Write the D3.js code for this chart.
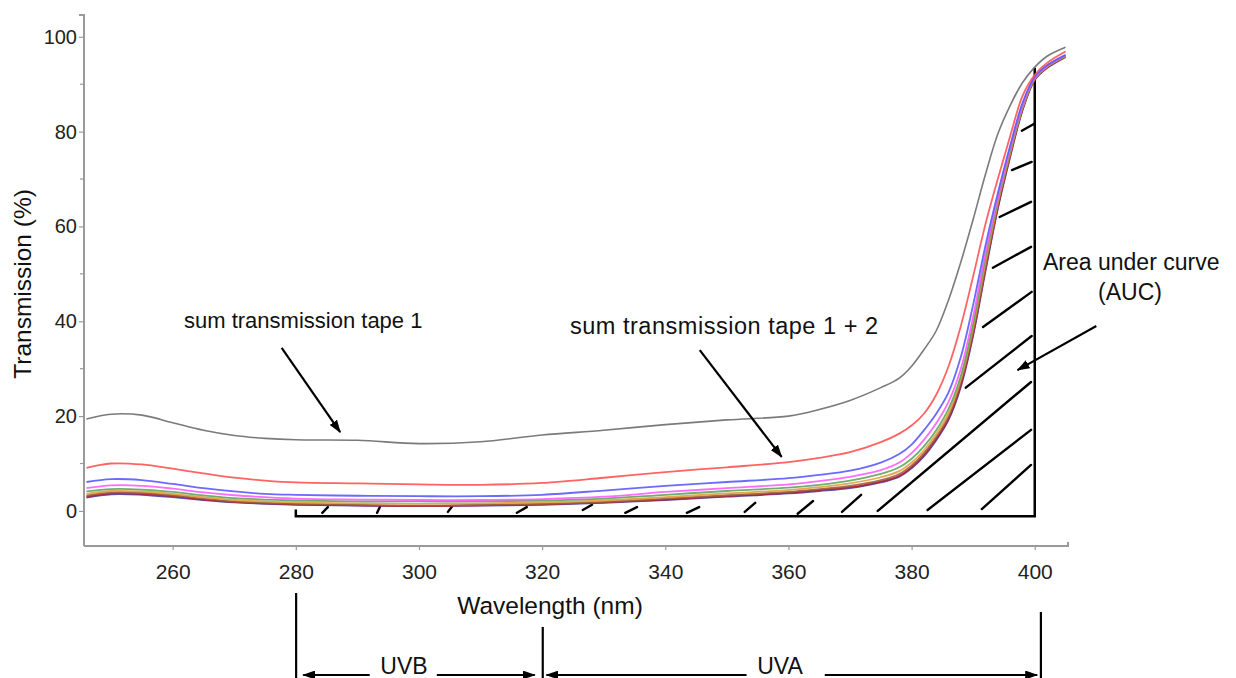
<!DOCTYPE html>
<html>
<head>
<meta charset="utf-8">
<script src="https://cdn.jsdelivr.net/npm/d3@7"></script>
<style>
  html, body { margin: 0; padding: 0; background: #fff; }
  svg { display: block; font-family: "Liberation Sans", Arial, Helvetica, sans-serif; }
</style>
</head>
<body>
<svg id="chart" width="1236" height="678"></svg>
<script>
// ---------- data ----------
const wavelengths = [246, 250, 255, 260, 265, 270, 275, 280, 290, 300, 310, 320, 330, 340, 350, 360, 365, 370, 375, 378, 380, 382, 384, 386, 388, 390, 392, 394, 396, 398, 400, 402, 405];

const tape1      = [19.4, 20.4, 20.2, 18.6, 17.0, 15.9, 15.3, 15.0, 14.9, 14.2, 14.6, 16.0, 17.0, 18.2, 19.2, 20.0, 21.4, 23.3, 26.0, 28.0, 30.5, 34.0, 38.0, 44.5, 52.5, 61.5, 71.0, 79.5, 85.5, 90.3, 93.6, 95.9, 97.8];
const tape12     = [9.1, 10.0, 9.8, 8.9, 7.9, 7.0, 6.4, 6.0, 5.8, 5.6, 5.5, 5.9, 7.0, 8.2, 9.2, 10.3, 11.2, 12.4, 14.5, 16.3, 18.0, 20.5, 24.5, 30.5, 39.0, 49.5, 60.5, 70.0, 79.0, 87.5, 92.0, 94.5, 96.9];
const tapeBlue   = [6.1, 6.7, 6.5, 5.7, 4.8, 4.1, 3.6, 3.4, 3.2, 3.1, 3.1, 3.4, 4.3, 5.3, 6.1, 6.9, 7.6, 8.5, 10.2, 12.0, 14.0, 17.0, 20.5, 25.0, 32.5, 43.5, 56.0, 67.0, 77.0, 86.0, 91.6, 94.0, 96.2];
const tapePink   = [4.8, 5.4, 5.3, 4.7, 3.9, 3.3, 2.9, 2.6, 2.4, 2.3, 2.3, 2.5, 3.0, 4.0, 4.8, 5.6, 6.3, 7.2, 8.6, 10.2, 12.2, 15.0, 18.5, 23.0, 30.0, 41.0, 54.5, 66.0, 76.5, 85.5, 91.4, 93.9, 96.1];
const tapeGreen  = [4.1, 4.6, 4.5, 4.0, 3.3, 2.7, 2.4, 2.2, 2.0, 2.0, 2.0, 2.2, 2.6, 3.4, 4.2, 4.9, 5.5, 6.4, 7.8, 9.2, 11.0, 13.6, 17.0, 21.5, 28.5, 39.5, 53.5, 65.5, 76.0, 85.2, 91.3, 93.8, 96.0];
const tapeOrange = [3.6, 4.2, 4.1, 3.6, 2.9, 2.3, 2.0, 1.8, 1.6, 1.5, 1.6, 1.8, 2.2, 2.9, 3.7, 4.4, 5.0, 5.8, 7.1, 8.4, 10.2, 12.8, 16.2, 20.6, 27.8, 38.8, 52.5, 65.0, 75.6, 85.0, 91.2, 93.7, 95.9];
const tapeBrown  = [3.2, 3.9, 3.8, 3.3, 2.6, 2.0, 1.7, 1.5, 1.3, 1.1, 1.3, 1.5, 1.9, 2.6, 3.3, 4.0, 4.6, 5.3, 6.5, 7.8, 9.6, 12.2, 15.6, 20.0, 27.2, 38.0, 51.5, 64.5, 75.2, 84.8, 91.1, 93.6, 95.9];
const tapeDkRed  = [3.0, 3.7, 3.6, 3.1, 2.4, 1.9, 1.6, 1.4, 1.2, 1.0, 1.2, 1.4, 1.8, 2.4, 3.1, 3.8, 4.4, 5.0, 6.2, 7.4, 9.2, 11.8, 15.2, 19.5, 26.6, 37.4, 51.0, 64.0, 74.9, 84.6, 91.0, 93.5, 95.8];
const tapeNavy   = [2.8, 3.5, 3.4, 2.9, 2.3, 1.8, 1.5, 1.3, 1.1, 1.0, 1.1, 1.3, 1.7, 2.3, 3.0, 3.7, 4.2, 4.8, 6.0, 7.2, 9.0, 11.5, 14.9, 19.2, 26.2, 37.0, 50.6, 63.7, 74.6, 84.4, 90.9, 93.4, 95.7];

const seriesNames  = ["tape1", "tape12", "blue", "pink", "green", "orange", "brown", "darkred", "navy"];
const seriesValues = [tape1, tape12, tapeBlue, tapePink, tapeGreen, tapeOrange, tapeBrown, tapeDkRed, tapeNavy];

const xTicks = [260, 280, 300, 320, 340, 360, 380, 400];
const yTicks = [0, 20, 40, 60, 80, 100];
const yMinorTicks = [10, 30, 50, 70, 90];

// hatch segments of the AUC region: [wl1, T1, wl2, T2]
const hatchSegments = [
  [284.3, -0.4, 285.2, 0.8], [293.2, -0.4, 293.7, 1.0], [304.7, -0.2, 305.4, 1.0],
  [315.9, -0.4, 317.5, 0.8], [326.6, 0.2, 328.1, 1.3], [333.5, -0.4, 335.4, 0.8],
  [343.5, -0.4, 345.5, 0.8], [352.9, -0.2, 354.6, 1.7], [361.5, -0.6, 364.0, 2.1],
  [368.7, -0.2, 371.8, 3.4], [374.5, 0.0, 399.4, 27.2], [382.6, 0.2, 399.4, 17.1],
  [391.4, 0.4, 399.4, 9.7], [388.8, 26.0, 399.5, 36.9], [391.6, 38.8, 399.5, 46.2],
  [393.2, 51.3, 399.4, 55.7], [394.3, 62.0, 399.4, 65.2], [396.3, 71.9, 399.5, 73.6],
  [397.9, 80.2, 400.0, 81.7]
];

// annotation arrows: [wl1, T1, wl2, T2]
const arrows = [
  [277.7, 34.4, 287.2, 16.6],
  [345.6, 33.9, 358.9, 11.4],
  [410.0, 39.0, 397.2, 29.7]
];

// UVB / UVA band boundaries and arrows (wavelength units)
const bandBounds = [[280.05, 593], [320.1, 627], [401.0, 612]];
const bandArrows = [[292.0, 281.2], [302.9, 318.8], [353.2, 320.7], [365.9, 400.4]];

// ---------- layout ----------
const svg = d3.select("#chart");
const x = d3.scaleLinear().domain([245.6, 405.4]).range([84, 1068]);
const y = d3.scaleLinear().domain([-7.4, 104.6]).range([546, 15]);

const colors = {
  tape1: "#6b6b6b", tape12: "#ff5252", blue: "#5a5aff", pink: "#ff5cff",
  green: "#5fa55f", orange: "#e0a040", brown: "#a0603c", darkred: "#b02035", navy: "#4a3ca8"
};

// arrow marker
const defs = svg.append("defs");
defs.append("marker").attr("id", "ah")
  .attr("viewBox", "0 0 13 9").attr("refX", 12).attr("refY", 4.5)
  .attr("markerWidth", 13).attr("markerHeight", 9)
  .attr("markerUnits", "userSpaceOnUse").attr("orient", "auto")
  .append("path").attr("d", "M0,0 L13,4.5 L0,9 Z").attr("fill", "#000");

// axes
const axisColor = "#9a9a9a";
const yAxis = svg.append("g").attr("transform", `translate(${x.range()[0]},0)`)
  .call(d3.axisLeft(y).tickValues(yTicks).tickSize(5).tickPadding(5).tickFormat(d3.format("d")));
yAxis.select(".domain").attr("stroke", axisColor).attr("stroke-width", 2).attr("d", `M-5,${y.range()[1]}H0V${y.range()[0]}`);
yAxis.selectAll(".tick line").attr("stroke", axisColor).attr("stroke-width", 1.2);
yAxis.selectAll(".tick text").attr("fill", "#222").style("font-size", "20px").attr("x", -7);
yAxis.selectAll(".minor").data(yMinorTicks).enter().append("line")
  .attr("x1", -4).attr("x2", 0).attr("y1", d => y(d)).attr("y2", d => y(d))
  .attr("stroke", axisColor).attr("stroke-width", 1.2);

const xAxis = svg.append("g").attr("transform", `translate(0,${y.range()[0]})`)
  .call(d3.axisBottom(x).tickValues(xTicks).tickSize(4).tickPadding(14).tickFormat(d3.format("d")));
xAxis.select(".domain").attr("stroke", axisColor).attr("stroke-width", 2).attr("d", `M${x.range()[0]},0H${x.range()[1]}V-4`);
xAxis.selectAll(".tick line").attr("stroke", axisColor).attr("stroke-width", 1.2);
xAxis.selectAll(".tick text").attr("fill", "#222").style("font-size", "21px");

// axis titles
svg.append("text").attr("x", 550).attr("y", 614).attr("text-anchor", "middle")
  .style("font-size", "24.5px").attr("fill", "#111").text("Wavelength (nm)");
svg.append("text").attr("transform", "translate(31,284) rotate(-90)").attr("text-anchor", "middle")
  .style("font-size", "24.5px").attr("fill", "#111").text("Transmission (%)");

// AUC bracket
const bracketT = -1.1;
svg.append("path").attr("fill", "none").attr("stroke", "#000").attr("stroke-width", 2.5)
  .attr("d", `M${x(280)},${y(0.3)}V${y(bracketT)}H${x(400)}V${y(93.5)}`);

// hatch
svg.append("g").selectAll("line").data(hatchSegments).enter().append("line")
  .attr("x1", d => x(d[0])).attr("y1", d => y(d[1]))
  .attr("x2", d => x(d[2])).attr("y2", d => y(d[3]))
  .attr("stroke", "#000").attr("stroke-width", 2.4).attr("stroke-linecap", "round");

// curves (draw from the bottom cluster up)
const line = d3.line().x((d, i) => x(wavelengths[i])).y(d => y(d)).curve(d3.curveCatmullRom.alpha(0.5));
const order = d3.range(seriesNames.length).reverse();
svg.append("g").selectAll("path").data(order).enter().append("path")
  .attr("fill", "none")
  .attr("stroke", i => colors[seriesNames[i]])
  .attr("stroke-width", i => i === 0 ? 1.6 : 1.8)
  .attr("stroke-opacity", 0.9)
  .attr("d", i => line(seriesValues[i]));

// annotation arrows
svg.append("g").selectAll("line").data(arrows).enter().append("line")
  .attr("x1", d => x(d[0])).attr("y1", d => y(d[1]))
  .attr("x2", d => x(d[2])).attr("y2", d => y(d[3]))
  .attr("stroke", "#000").attr("stroke-width", 2.2).attr("marker-end", "url(#ah)");

// annotation texts
const ann = svg.append("g").attr("fill", "#111");
ann.append("text").attr("x", 184).attr("y", 328).style("font-size", "22px").text("sum transmission tape 1");
ann.append("text").attr("x", 570).attr("y", 334).style("font-size", "23.5px")
  .attr("textLength", 308).attr("lengthAdjust", "spacing").text("sum transmission tape 1 + 2");
ann.append("text").attr("x", 1043).attr("y", 270).style("font-size", "23px").text("Area under curve");
ann.append("text").attr("x", 1130).attr("y", 300).attr("text-anchor", "middle").style("font-size", "23px").text("(AUC)");

// UVB / UVA ranges
const bandY = 675;
const bandG = svg.append("g");
bandG.selectAll(".bb").data(bandBounds).enter().append("line")
  .attr("x1", d => x(d[0])).attr("x2", d => x(d[0])).attr("y1", d => d[1]).attr("y2", 678)
  .attr("stroke", "#000").attr("stroke-width", 2.2);
bandG.selectAll(".ba").data(bandArrows).enter().append("line")
  .attr("x1", d => x(d[0])).attr("x2", d => x(d[1])).attr("y1", bandY).attr("y2", bandY)
  .attr("stroke", "#000").attr("stroke-width", 2).attr("marker-end", "url(#ah)");
bandG.append("text").attr("x", 404).attr("y", 674).attr("text-anchor", "middle").style("font-size", "23px").attr("fill", "#111").text("UVB");
bandG.append("text").attr("x", 780).attr("y", 674).attr("text-anchor", "middle").style("font-size", "23px").attr("fill", "#111").text("UVA");
</script>
</body>
</html>
